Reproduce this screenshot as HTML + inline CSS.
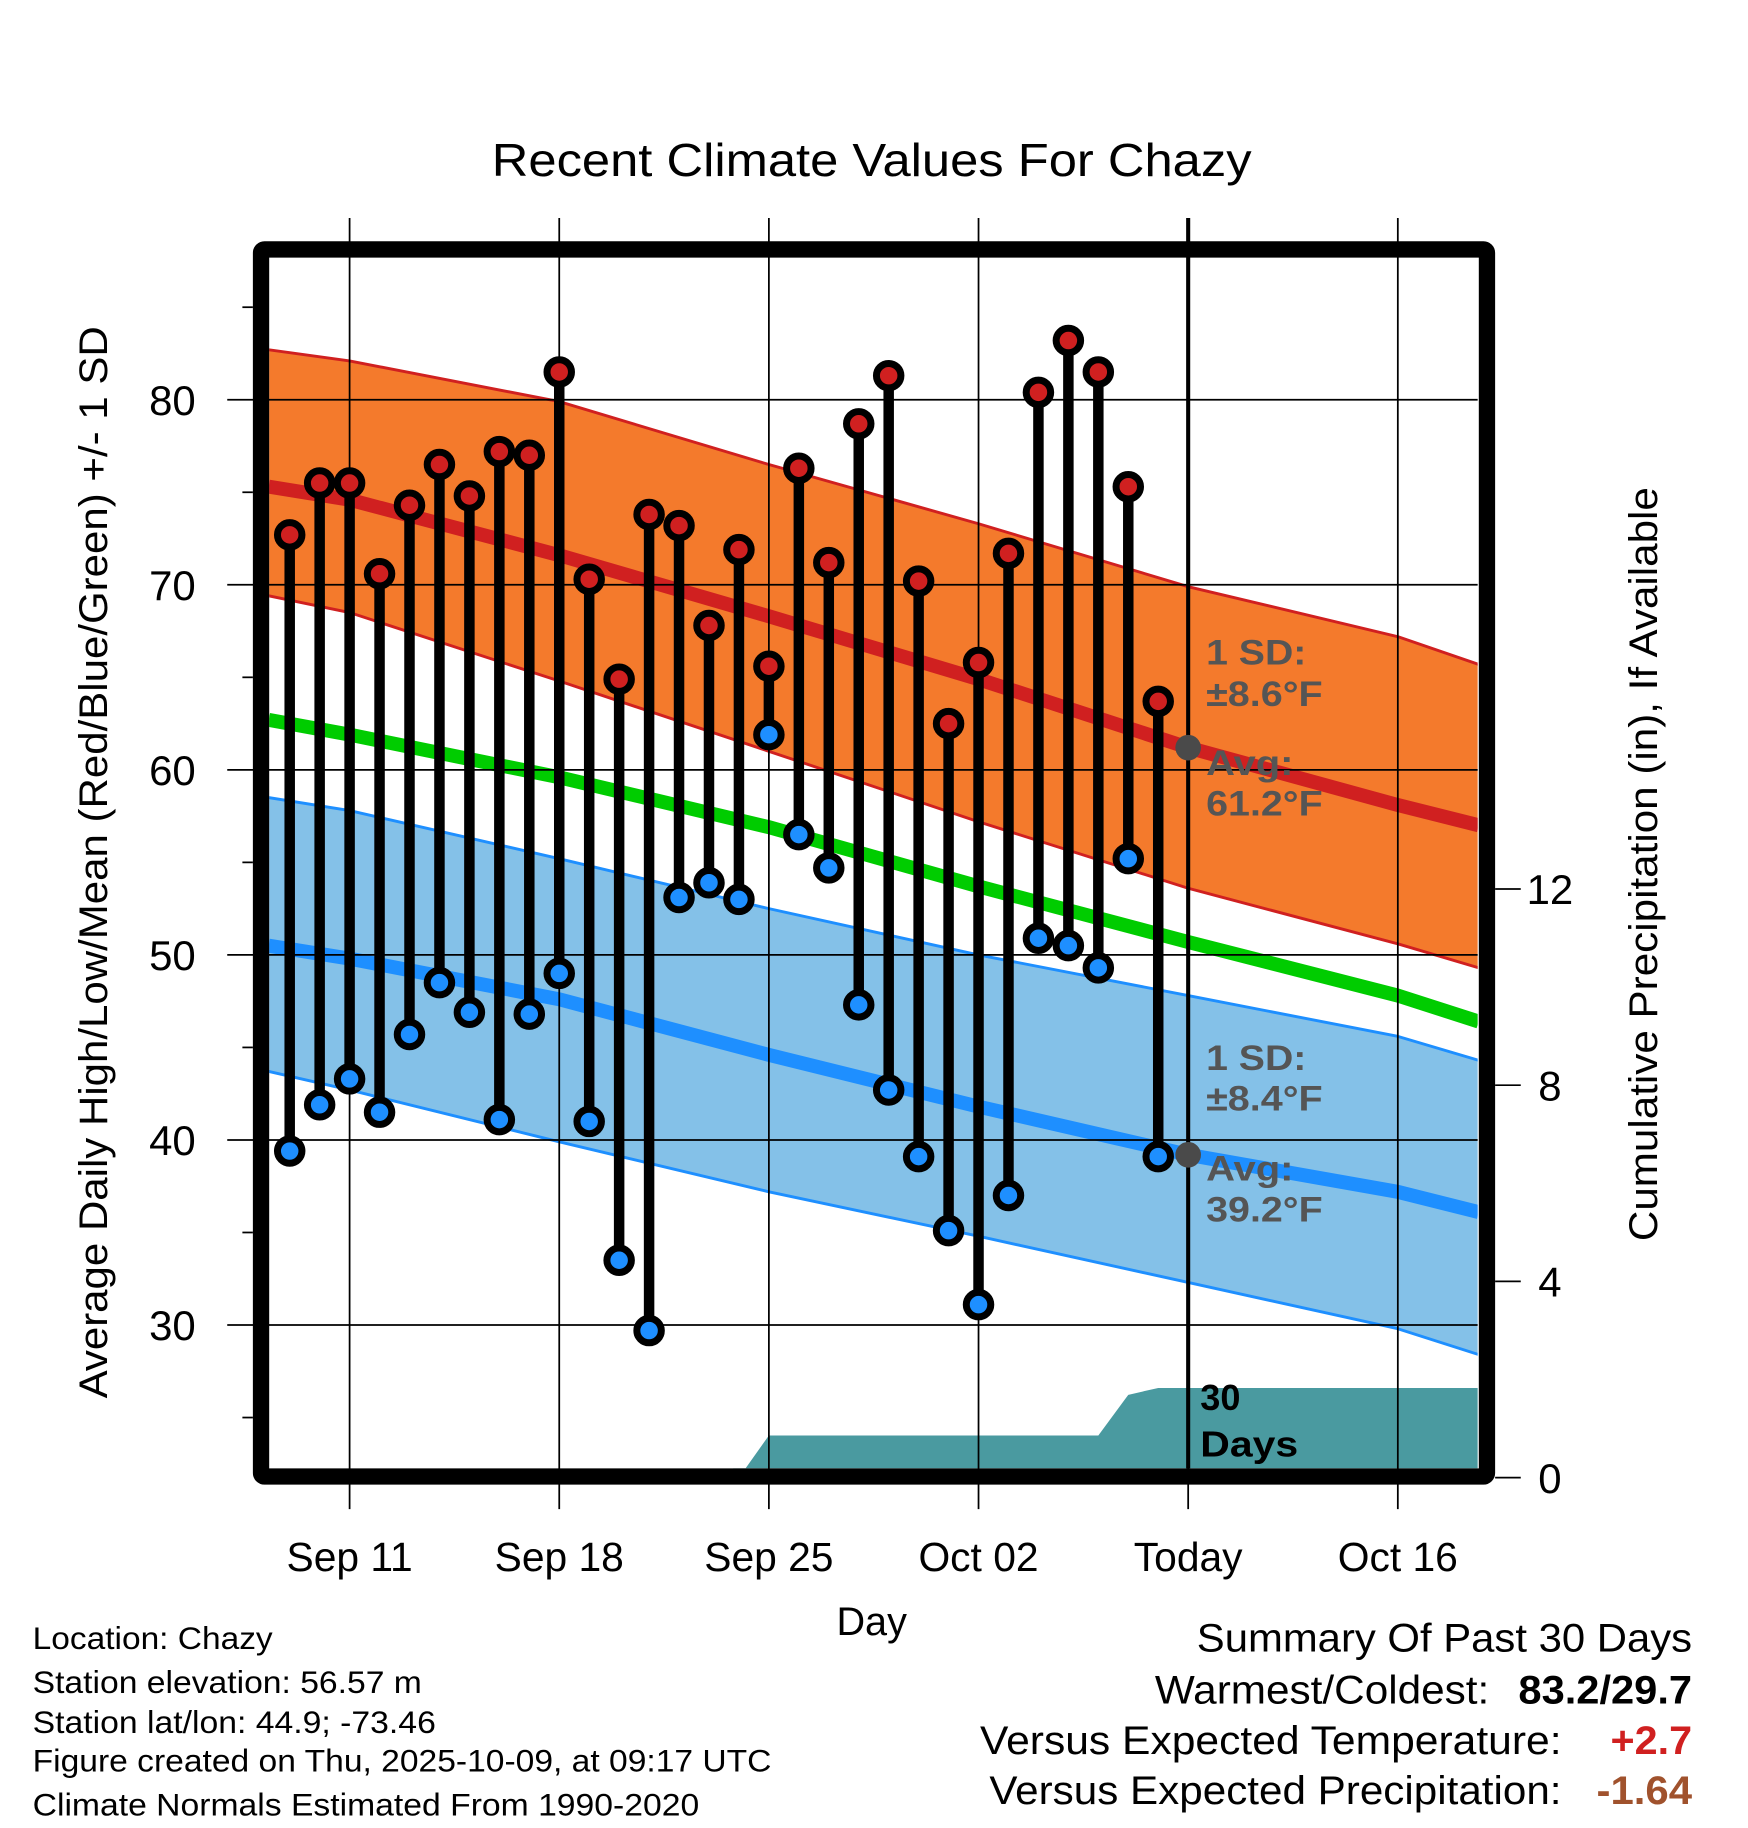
<!DOCTYPE html>
<html><head><meta charset="utf-8">
<style>
html,body{margin:0;padding:0;background:#fff;}
svg{display:block;font-family:"Liberation Sans",Arial,sans-serif;}
</style></head>
<body>
<svg id="chart" width="1748" height="1828" viewBox="0 0 1500 1568.6" xmlns="http://www.w3.org/2000/svg">
<rect width="1500" height="1568.6" fill="#fff"/>
<text x="422" y="151" font-size="40" textLength="652" lengthAdjust="spacingAndGlyphs">Recent Climate Values For Chazy</text>
<g id="plot"></g>
<text transform="translate(92,1200) rotate(-90)" font-size="34" textLength="920" lengthAdjust="spacingAndGlyphs">Average Daily High/Low/Mean (Red/Blue/Green) +/- 1 SD</text>
<text transform="translate(1422,1065) rotate(-90)" font-size="34" textLength="647" lengthAdjust="spacingAndGlyphs">Cumulative Precipitation (in), If Available</text>
<text x="748" y="1403" font-size="34" text-anchor="middle">Day</text>
<g font-size="27" lengthAdjust="spacingAndGlyphs">
<text x="28" y="1415" textLength="206" lengthAdjust="spacingAndGlyphs">Location: Chazy</text>
<text x="28" y="1453" textLength="334" lengthAdjust="spacingAndGlyphs">Station elevation: 56.57 m</text>
<text x="28" y="1487" textLength="346" lengthAdjust="spacingAndGlyphs">Station lat/lon: 44.9; -73.46</text>
<text x="28" y="1520" textLength="634" lengthAdjust="spacingAndGlyphs">Figure created on Thu, 2025-10-09, at 09:17 UTC</text>
<text x="28" y="1558" textLength="572" lengthAdjust="spacingAndGlyphs">Climate Normals Estimated From 1990-2020</text>
</g>
<g font-size="34">
<text x="1027" y="1417" textLength="425" lengthAdjust="spacingAndGlyphs">Summary Of Past 30 Days</text>
<text x="991" y="1462" textLength="287" lengthAdjust="spacingAndGlyphs">Warmest/Coldest:</text>
<text x="1303" y="1462" font-weight="bold" textLength="149" lengthAdjust="spacingAndGlyphs">83.2/29.7</text>
<text x="841" y="1505" textLength="499" lengthAdjust="spacingAndGlyphs">Versus Expected Temperature:</text>
<text x="1382" y="1505" font-weight="bold" fill="#d02020" textLength="70" lengthAdjust="spacingAndGlyphs">+2.7</text>
<text x="849" y="1548" textLength="491" lengthAdjust="spacingAndGlyphs">Versus Expected Precipitation:</text>
<text x="1370" y="1548" font-weight="bold" fill="#a0522d" textLength="82" lengthAdjust="spacingAndGlyphs">-1.64</text>
</g>
</svg>
<script>
// ---- data ----
const dayLabels = ["Sep 11","Sep 18","Sep 25","Oct 02","Today","Oct 16"];
const dayTicks = [0,7,14,21,28,35];
const obsDays = [-2,-1,0,1,2,3,4,5,6,7,8,9,10,11,12,13,14,15,16,17,18,19,20,21,22,23,24,25,26,27];
const highs = [72.7,75.5,75.5,70.6,74.3,76.5,74.8,77.2,77.0,81.5,70.3,64.9,73.8,73.2,67.8,71.9,65.6,76.3,71.2,78.7,81.3,70.2,62.5,65.8,71.7,80.4,83.2,81.5,75.3,63.7];
const lows = [39.4,41.9,43.3,41.5,45.7,48.5,46.9,41.1,46.8,49.0,41.0,33.5,29.7,53.1,53.9,53.0,61.9,56.5,54.7,47.3,42.7,39.1,35.1,31.1,37.0,50.9,50.5,49.3,55.2,39.1];
const normDays = [-2.7,0,7,14,21,28,35,37.7];
const highAvg = [75.3,74.6,71.6,68.3,64.9,61.2,58.1,57.0];
const highUpper = [82.7,82.1,79.9,76.5,73.3,69.9,67.2,65.7];
const highLower = [69.4,68.5,64.8,61.0,57.2,53.6,50.6,49.3];
const meanAvg = [62.7,61.9,59.6,56.9,53.7,50.7,47.8,46.4];
const lowAvg = [50.5,49.8,47.6,44.6,41.8,39.2,37.2,36.1];
const lowUpper = [58.5,57.8,55.2,52.5,50.0,47.8,45.6,44.3];
const lowLower = [43.7,42.7,39.9,37.2,34.8,32.3,29.8,28.4];
const precipDays = [13,14,25,26,27,37.7];
const precipVals = [0,0.86,0.86,1.69,1.83,1.83];
const yTicks = [30,40,50,60,70,80];
const y2Ticks = [0,4,8,12];
// ---- scales ----
const L=231,R=1268,T=221,B=1260;
const X=d=>300+d*25.7;
const Y=v=>343+(80-v)*15.88;
const Y2=p=>1268-p*42.1;
const NS="http://www.w3.org/2000/svg";
const plot=document.getElementById('plot');
function mk(tag,attrs,parent){const e=document.createElementNS(NS,tag);for(const k in attrs)e.setAttribute(k,attrs[k]);(parent||plot).appendChild(e);return e;}
function pts(xs,ys,fy){return xs.map((d,i)=>X(d).toFixed(1)+','+fy(ys[i]).toFixed(1));}
const defs=mk('defs',{});
const cp=mk('clipPath',{id:'clip'},defs);
mk('rect',{x:L,y:T,width:R-L,height:B-T},cp);
const g=mk('g',{'clip-path':'url(#clip)'});
let e=mk('polygon',{points:pts(normDays,highUpper,Y).concat(pts(normDays,highLower,Y).reverse()).join(' '),fill:'#f47a2c'},g);


e=mk('polygon',{points:pts(normDays,lowUpper,Y).concat(pts(normDays,lowLower,Y).reverse()).join(' '),fill:'#84c1e8'},g);


[[highUpper,'#d02020',2.5,'high-upper-line'],[highLower,'#d02020',2.5,'high-lower-line'],[lowUpper,'#1e8fff',2.5,'low-upper-line'],[lowLower,'#1e8fff',2.5,'low-lower-line'],[highAvg,'#d02020',12,'high-avg-line'],[meanAvg,'#00cc00',12,'mean-avg-line'],[lowAvg,'#1e8fff',12,'low-avg-line']].forEach(s=>{
  const l=mk('polyline',{points:pts(normDays,s[0],Y).join(' '),fill:'none',stroke:s[1],'stroke-width':s[2]},g);
  
  
});
const pp=[(X(precipDays[0])-5).toFixed(1)+','+B].concat(pts(precipDays,precipVals,Y2)).concat([X(precipDays[precipDays.length-1]).toFixed(1)+','+B]);
e=mk('polygon',{points:pp.join(' '),fill:'#4a9aa0'},g);


yTicks.forEach(v=>{mk('line',{x1:195,x2:R,y1:Y(v),y2:Y(v),stroke:'#000','stroke-width':1.5});
 const t=mk('text',{x:168,y:Y(v)+13,'font-size':36,'text-anchor':'end'});t.textContent=v;
 
 });
for(let v=25;v<=85;v+=10){mk('line',{x1:208,x2:217,y1:Y(v),y2:Y(v),stroke:'#000','stroke-width':1.5});}
dayTicks.forEach((d,i)=>{mk('line',{x1:X(d),x2:X(d),y1:187,y2:1295,stroke:'#000','stroke-width':1.5});
 const t=mk('text',{x:X(d),y:1348,'font-size':35,'text-anchor':'middle'});t.textContent=dayLabels[i];
 
 });
y2Ticks.forEach(p=>{mk('line',{x1:1283,x2:1305,y1:Y2(p),y2:Y2(p),stroke:'#000','stroke-width':1.5});
 const t=mk('text',{x:1330,y:Y2(p)+13,'font-size':36,'text-anchor':'middle'});t.textContent=p;
 
 });
e=mk('line',{x1:X(28),x2:X(28),y1:187,y2:B,stroke:'#000','stroke-width':3.5});


obsDays.forEach((d,i)=>{
  const s=mk('line',{x1:X(d),x2:X(d),y1:Y(highs[i]),y2:Y(lows[i]),stroke:'#000','stroke-width':9});
  
  
});
obsDays.forEach((d,i)=>{
  const h=mk('circle',{cx:X(d),cy:Y(highs[i]),r:10.5,fill:'#d02020',stroke:'#000','stroke-width':6});
  
  
  const l=mk('circle',{cx:X(d),cy:Y(lows[i]),r:10.5,fill:'#1e8fff',stroke:'#000','stroke-width':6});
  
  
});
[highAvg[5],lowAvg[5]].forEach(v=>{const c=mk('circle',{cx:X(28),cy:Y(v),r:11,fill:'#4a4a4a'});
 
 });
[["1 SD:",570,86],["±8.6°F",606,100],["Avg:",665,75],["61.2°F",700,100],["1 SD:",918,86],["±8.4°F",953,100],["Avg:",1013,75],["39.2°F",1048,100]].forEach(a=>{
 const t=mk('text',{x:1035,y:a[1],'font-size':30,'font-weight':'bold',fill:'#555',textLength:a[2],lengthAdjust:'spacingAndGlyphs'});t.textContent=a[0];
 
 });
let t=mk('text',{x:1030,y:1210,'font-size':31,'font-weight':'bold'});t.textContent='30';


t=mk('text',{x:1030,y:1250,'font-size':31,'font-weight':'bold',textLength:84,lengthAdjust:'spacingAndGlyphs'});t.textContent='Days';


e=mk('rect',{x:224,y:214,width:1052,height:1053,fill:'none',stroke:'#000','stroke-width':14,rx:3});


</script>
</body></html>
